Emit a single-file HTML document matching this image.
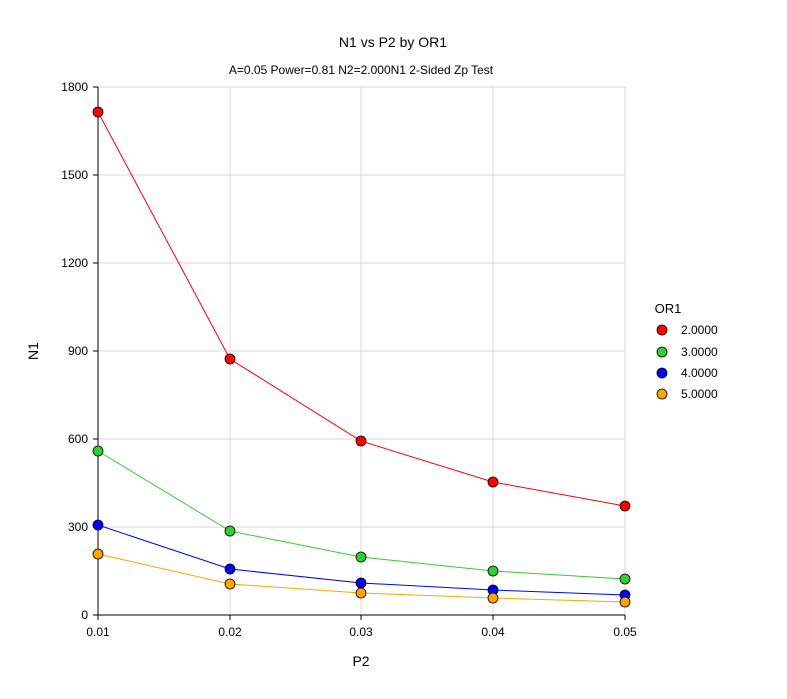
<!DOCTYPE html>
<html><head><meta charset="utf-8"><style>
body{margin:0;background:#fff;}
svg text{font-family:"Liberation Sans",Arial,sans-serif;}
</style></head><body>
<svg width="787" height="694" xmlns="http://www.w3.org/2000/svg">
<rect width="787" height="694" fill="#fff"/>
<text x="393" y="47" font-size="14" text-anchor="middle">N1 vs P2 by OR1</text>
<text x="361" y="74" font-size="12" text-anchor="middle">A=0.05 Power=0.81 N2=2.000N1 2-Sided Zp Test</text>
<g stroke="#d8d8d8" stroke-width="1">
<line x1="230" y1="87" x2="230" y2="615"/><line x1="361" y1="87" x2="361" y2="615"/>
<line x1="493" y1="87" x2="493" y2="615"/><line x1="625" y1="87" x2="625" y2="615"/>
<line x1="98" y1="87" x2="625" y2="87"/><line x1="98" y1="175" x2="625" y2="175"/>
<line x1="98" y1="263" x2="625" y2="263"/><line x1="98" y1="351" x2="625" y2="351"/>
<line x1="98" y1="439" x2="625" y2="439"/><line x1="98" y1="527" x2="625" y2="527"/>
</g>
<g stroke="#000" stroke-width="1">
<line x1="98" y1="87" x2="98" y2="615"/><line x1="98" y1="615" x2="625" y2="615"/>
<line x1="93" y1="87" x2="98" y2="87"/><line x1="93" y1="175" x2="98" y2="175"/><line x1="93" y1="263" x2="98" y2="263"/>
<line x1="93" y1="351" x2="98" y2="351"/><line x1="93" y1="439" x2="98" y2="439"/><line x1="93" y1="527" x2="98" y2="527"/><line x1="93" y1="615" x2="98" y2="615"/>
<line x1="98" y1="615" x2="98" y2="620"/><line x1="230" y1="615" x2="230" y2="620"/><line x1="361" y1="615" x2="361" y2="620"/><line x1="493" y1="615" x2="493" y2="620"/><line x1="625" y1="615" x2="625" y2="620"/>
</g>
<g font-size="12" text-anchor="end">
<text x="88" y="91">1800</text><text x="88" y="179">1500</text><text x="88" y="267">1200</text>
<text x="88" y="355">900</text><text x="88" y="443">600</text><text x="88" y="531">300</text><text x="88" y="619">0</text>
</g>
<g font-size="12" text-anchor="middle">
<text x="98" y="636">0.01</text><text x="230" y="636">0.02</text><text x="361" y="636">0.03</text><text x="493" y="636">0.04</text><text x="625" y="636">0.05</text>
</g>
<text x="361" y="666" font-size="14" text-anchor="middle">P2</text>
<text x="38" y="351" font-size="14" text-anchor="middle" transform="rotate(-90 38 351)">N1</text>
<g fill="none" stroke-width="1">
<polyline stroke="#ff0000" points="98,112 230,359 361,441 493,482 625,506"/>
<polyline stroke="#33cc33" points="98,451 230,531 361,557 493,571 625,579"/>
<polyline stroke="#0000ff" points="98,525 230,569 361,583 493,590 625,595"/>
<polyline stroke="#ffa500" points="98,554 230,584 361,593 493,598 625,602"/>
</g>
<g stroke="#000" stroke-width="0.8">
<g fill="#ff0000"><circle cx="98" cy="112" r="5"/><circle cx="230" cy="359" r="5"/><circle cx="361" cy="441" r="5"/><circle cx="493" cy="482" r="5"/><circle cx="625" cy="506" r="5"/></g>
<g fill="#33cc33"><circle cx="98" cy="451" r="5"/><circle cx="230" cy="531" r="5"/><circle cx="361" cy="557" r="5"/><circle cx="493" cy="571" r="5"/><circle cx="625" cy="579" r="5"/></g>
<g fill="#0000ff"><circle cx="98" cy="525" r="5"/><circle cx="230" cy="569" r="5"/><circle cx="361" cy="583" r="5"/><circle cx="493" cy="590" r="5"/><circle cx="625" cy="595" r="5"/></g>
<g fill="#ffa500"><circle cx="98" cy="554" r="5"/><circle cx="230" cy="584" r="5"/><circle cx="361" cy="593" r="5"/><circle cx="493" cy="598" r="5"/><circle cx="625" cy="602" r="5"/></g>
<circle cx="662" cy="330" r="5" fill="#ff0000"/><circle cx="662" cy="352" r="5" fill="#33cc33"/>
<circle cx="662" cy="373" r="5" fill="#0000ff"/><circle cx="662" cy="394" r="5" fill="#ffa500"/>
</g>
<text x="668" y="313" font-size="13" text-anchor="middle">OR1</text>
<g font-size="12">
<text x="681" y="334">2.0000</text><text x="681" y="356">3.0000</text>
<text x="681" y="377">4.0000</text><text x="681" y="398">5.0000</text>
</g>
</svg>
</body></html>
